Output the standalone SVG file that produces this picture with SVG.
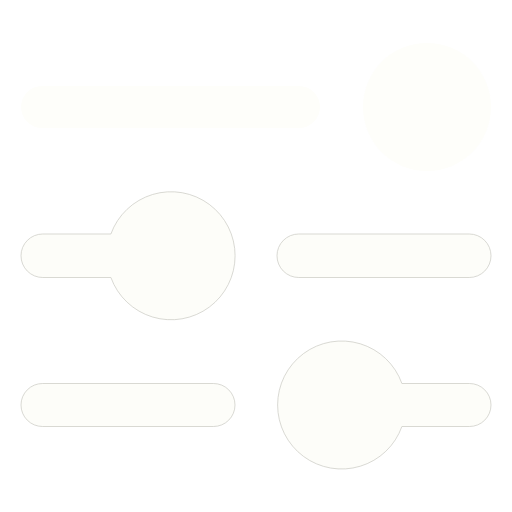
<svg xmlns="http://www.w3.org/2000/svg" width="512" height="512" viewBox="0 0 512 512">
<style>
.s{fill:#fdfdf9;stroke:#c8c8c2;stroke-width:0.7}
.t{fill:#fefefa;stroke:none}
</style>
<rect width="512" height="512" fill="#ffffff"/>
<g id="row1">
<rect class="t" x="21" y="86" width="299" height="42" rx="21"/>
<circle class="t" cx="427" cy="107" r="64"/>
</g>
<g id="row2-left">
<path class="s" d="M110.9,234 A64,64 0 1 1 110.9,277.5 L42.75,277.5 A21.75,21.75 0 0 1 42.75,234 Z"/>
</g>
<g id="row2-right">
<rect class="s" x="277" y="234" width="214" height="43.5" rx="21.75"/>
</g>
<g id="row3-left">
<rect class="s" x="21" y="383.5" width="214" height="43" rx="21.5"/>
</g>
<g id="row3-right">
<path class="s" d="M401.9,383.5 L469.5,383.5 A21.5,21.5 0 0 1 469.5,426.5 L401.9,426.5 A64,64 0 1 1 401.9,383.5 Z"/>
</g>
</svg>
